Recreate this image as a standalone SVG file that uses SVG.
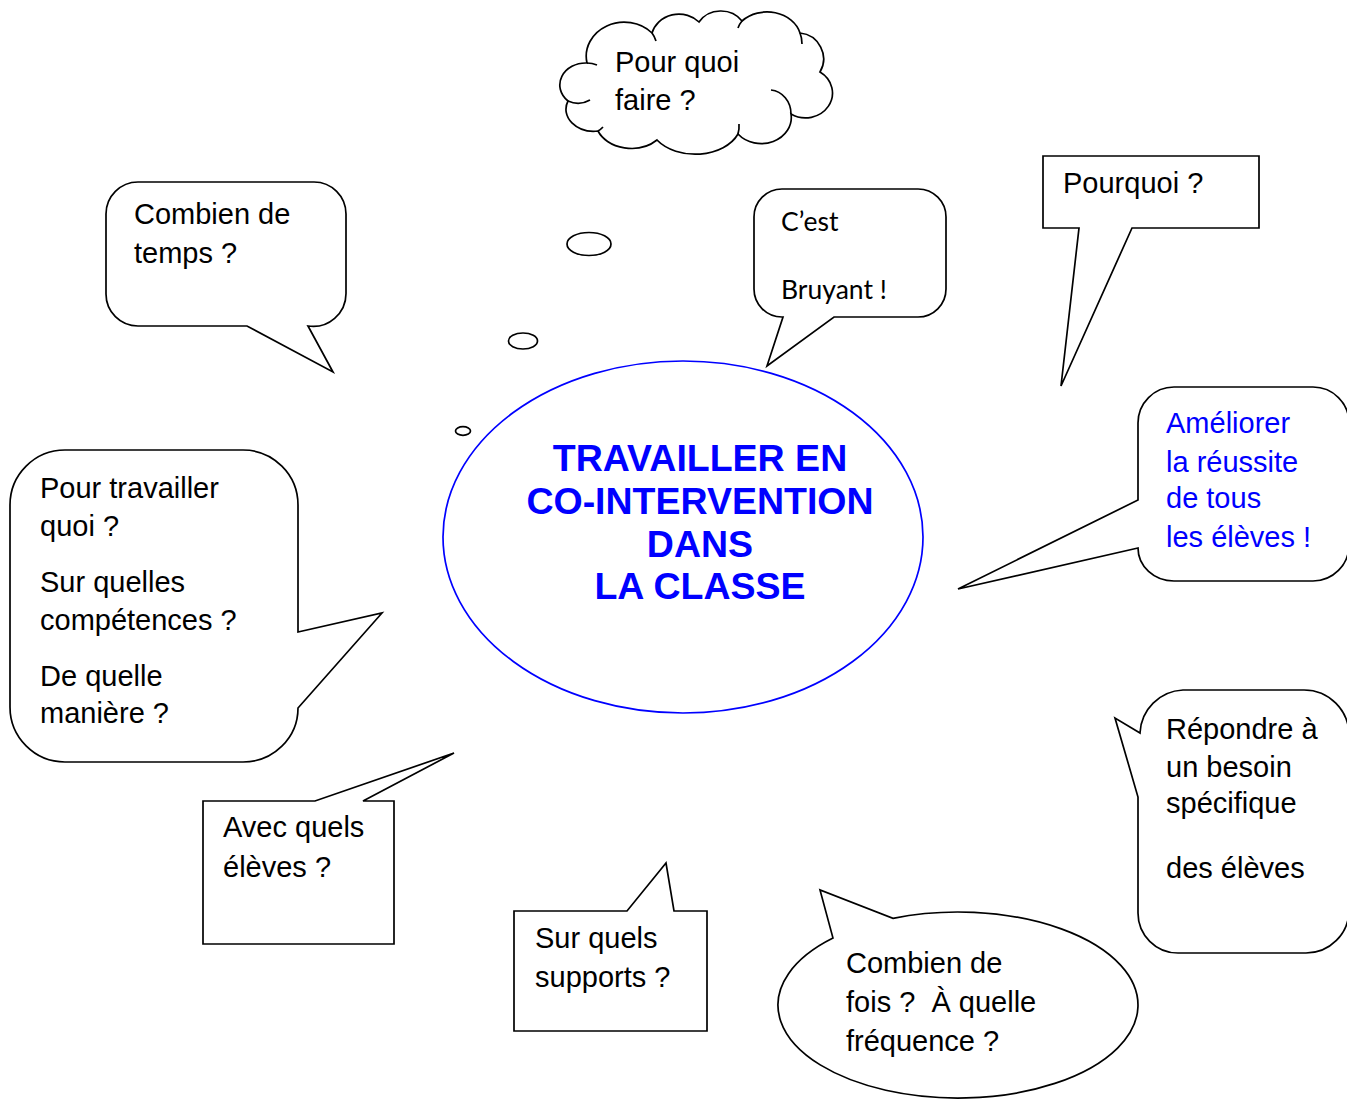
<svg xmlns="http://www.w3.org/2000/svg" width="1347" height="1099" viewBox="0 0 1347 1099">
<style>
  .shape { fill: #ffffff; stroke: #000000; stroke-width: 1.7; stroke-linejoin: miter; }
  .inner { fill: none; stroke: #000000; stroke-width: 1.7; }
  .t { font-family: "Liberation Sans", Arial, sans-serif; font-size: 29px; fill: #000000; }
  .blue { fill: #0000ff; }
  .cal { font-family: Lato, "Liberation Sans", sans-serif; font-size: 26.5px; fill: #000000; }
  .title { font-family: "Liberation Sans", Arial, sans-serif; font-size: 37.5px; font-weight: bold; fill: #0000ff; text-anchor: middle; }
</style>
<rect width="1347" height="1099" fill="#ffffff"/>

<g id="center">
  <ellipse cx="683" cy="537" rx="240" ry="176" fill="#ffffff" stroke="#0000ff" stroke-width="1.7"/>
  <text class="title" x="700" y="471">TRAVAILLER EN</text>
  <text class="title" x="700" y="514">CO-INTERVENTION</text>
  <text class="title" x="700" y="557">DANS</text>
  <text class="title" x="700" y="599">LA CLASSE</text>
</g>

<g id="thought-bubbles">
  <ellipse class="shape" cx="589" cy="244" rx="22" ry="11.5"/>
  <ellipse class="shape" cx="523" cy="341" rx="14.5" ry="8"/>
  <ellipse class="shape" cx="463" cy="431" rx="7.5" ry="4.3"/>
</g>

<g id="cloud">
  <path class="shape" d="M587,63 A38 34 0 0 1 652,33 A28 26 0 0 1 699,22 A26 24 0 0 1 742,21 A34 28 0 0 1 800,33 A26 26 0 0 1 820,72 A26 24 0 0 1 791,114 A30 26 0 0 1 738,134 A46 32 0 0 1 657,140 A36 28 0 0 1 598,131 A28 22 0 0 1 568,101 A26 22 0 0 1 587,63 Z"/>
  <path class="inner" d="M587,63 A30 30 0 0 1 597,65"/>
  <path class="inner" d="M652,33 A26 26 0 0 1 656,41"/>
  <path class="inner" d="M742,21 A22 22 0 0 0 738,28"/>
  <path class="inner" d="M800,33 A28 28 0 0 1 802,44"/>
  <path class="inner" d="M771,90 A22 24 0 0 1 791,114"/>
  <path class="inner" d="M738,134 A28 28 0 0 0 739,124"/>
  <path class="inner" d="M598,131 A20 20 0 0 0 603,127"/>
  <path class="inner" d="M568,101 A24 24 0 0 0 590,100"/>
  <text class="t" x="615" y="72">Pour quoi</text>
  <text class="t" x="615" y="110">faire ?</text>
</g>

<g id="bruyant">
  <path class="shape" d="M782,189 H918 A28 28 0 0 1 946,217 V289 A28 28 0 0 1 918,317 H834 L767,366 L783,317 H782 A28 28 0 0 1 754,289 V217 A28 28 0 0 1 782,189 Z"/>
  <text class="cal" x="781" y="231">C’est</text>
  <text class="cal" x="781" y="299">Bruyant !</text>
</g>

<g id="combien-temps">
  <path class="shape" d="M138,182 H314 A32 32 0 0 1 346,214 V293 A33 33 0 0 1 308,326 L333,372 L247,326 H138 A32 32 0 0 1 106,294 V214 A32 32 0 0 1 138,182 Z"/>
  <text class="t" x="134" y="224">Combien de</text>
  <text class="t" x="134" y="263">temps ?</text>
</g>

<g id="pourquoi">
  <path class="shape" d="M1043,156 H1259 V228 H1132 L1061,386 L1079,228 H1043 Z"/>
  <text class="t" x="1063" y="193">Pourquoi ?</text>
</g>

<g id="ameliorer">
  <path class="shape" d="M1174,387 H1313 A36 36 0 0 1 1349,423 V545 A36 36 0 0 1 1313,581 H1174 A36 33 0 0 1 1138,548 L958,589 L1138,500 V423 A36 36 0 0 1 1174,387 Z"/>
  <text class="t blue" x="1166" y="433">Améliorer</text>
  <text class="t blue" x="1166" y="472">la réussite</text>
  <text class="t blue" x="1166" y="508">de tous</text>
  <text class="t blue" x="1166" y="547">les élèves !</text>
</g>

<g id="pour-travailler">
  <path class="shape" d="M65,450 H243 A55 55 0 0 1 298,505 V632 L382,613 L298,708 A55 54 0 0 1 243,762 H65 A55 55 0 0 1 10,707 V505 A55 55 0 0 1 65,450 Z"/>
  <text class="t" x="40" y="498">Pour travailler</text>
  <text class="t" x="40" y="536">quoi ?</text>
  <text class="t" x="40" y="592">Sur quelles</text>
  <text class="t" x="40" y="630">compétences ?</text>
  <text class="t" x="40" y="686">De quelle</text>
  <text class="t" x="40" y="723">manière ?</text>
</g>

<g id="avec-quels">
  <path class="shape" d="M203,801 H315 L454,753 L363,801 H394 V944 H203 Z"/>
  <text class="t" x="223" y="837">Avec quels</text>
  <text class="t" x="223" y="877">élèves ?</text>
</g>

<g id="sur-quels">
  <path class="shape" d="M514,911 H627 L666,863 L674,911 H707 V1031 H514 Z"/>
  <text class="t" x="535" y="948">Sur quels</text>
  <text class="t" x="535" y="987">supports ?</text>
</g>

<g id="combien-fois">
  <path class="shape" d="M833,938.1 L820,890 L893,918.3 A180 93 0 1 1 833,938.1 Z"/>
  <text class="t" x="846" y="973">Combien de</text>
  <text class="t" x="846" y="1012">fois ?&#160; À quelle</text>
  <text class="t" x="846" y="1051">fréquence ?</text>
</g>

<g id="repondre">
  <path class="shape" d="M1183,690 H1304 A45 45 0 0 1 1349,735 V910 A43 43 0 0 1 1306,953 H1178 A40 40 0 0 1 1138,913 V797 L1115,718 L1140,733 A45 45 0 0 1 1183,690 Z"/>
  <text class="t" x="1166" y="739">Répondre à</text>
  <text class="t" x="1166" y="777">un besoin</text>
  <text class="t" x="1166" y="813">spécifique</text>
  <text class="t" x="1166" y="878">des élèves</text>
</g>

<g id="connectors"></g>
</svg>
